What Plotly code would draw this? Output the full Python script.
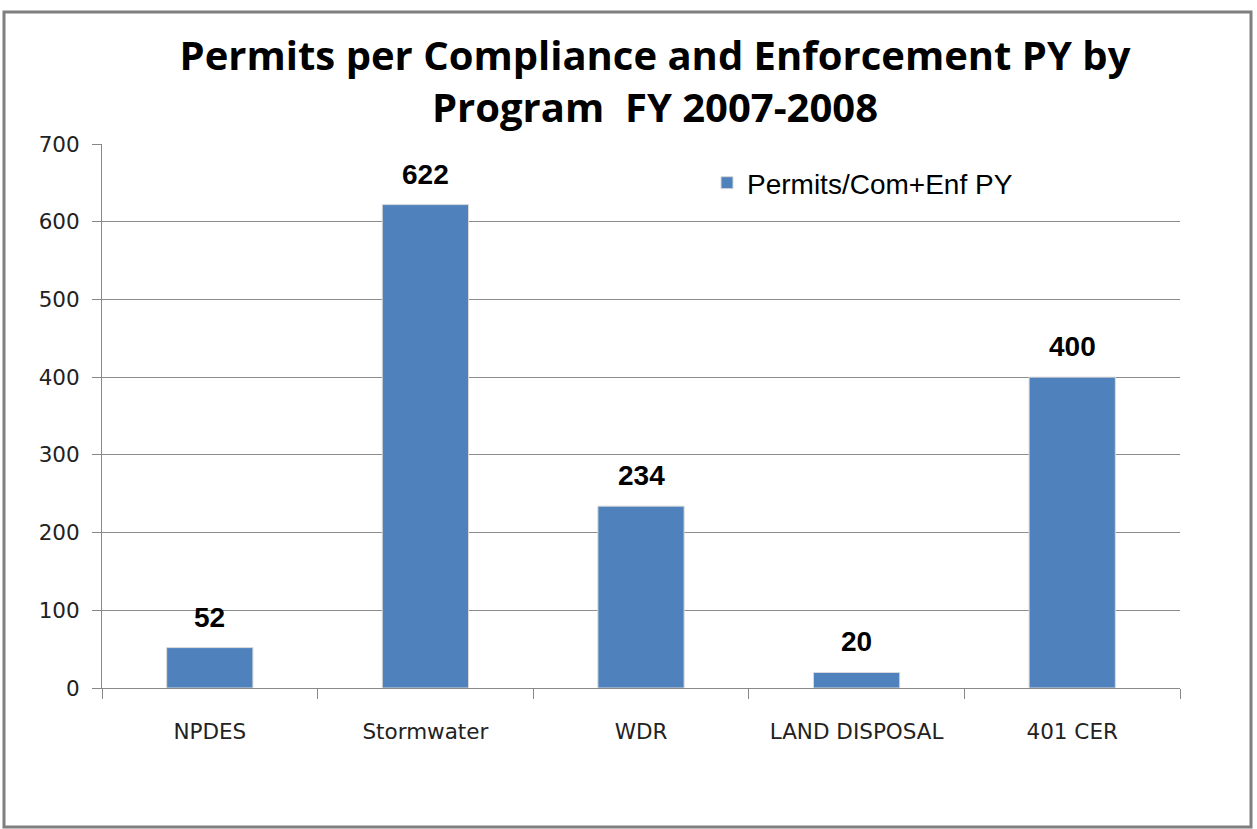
import plotly.graph_objects as go

categories = ["NPDES", "Stormwater", "WDR", "LAND DISPOSAL", "401 CER"]
values = [52, 622, 234, 20, 400]
series_name = "Permits/Com+Enf PY"
title_text = "Permits per Compliance and Enforcement PY by<br>Program  FY 2007-2008"
y_ticks = [0, 100, 200, 300, 400, 500, 600, 700]

W, H = 1257, 829
L, R, T, B = 102, 77, 144, 141
pw, ph = W - L - R, H - T - B

def px_x(x):
    return (x - L) / pw

def px_y(y):
    return (H - B - y) / ph

fig = go.Figure()
fig.add_trace(go.Bar(
    x=categories, y=values, name=series_name,
    marker=dict(color="#4F81BD", line=dict(color="#D9D9D9", width=1)),
    width=0.4,
))

for c, v in zip(categories, values):
    fig.add_annotation(x=c, y=v, text=str(v), showarrow=False, yanchor="bottom", yshift=13,
                       font=dict(family="Liberation Sans, Arial", size=28, color="black", weight="bold"))

fig.update_layout(
    width=W, height=H,
    margin=dict(l=L, r=R, t=T, b=B),
    paper_bgcolor="white", plot_bgcolor="white",
    title=dict(text=title_text, x=655 / W, xanchor="center", y=1 - 70 / H, yanchor="middle",
               font=dict(family="Open Sans", size=40, color="black", weight="bold")),
    showlegend=True,
    legend=dict(x=px_x(707), y=px_y(183), xanchor="left", yanchor="middle",
                font=dict(family="Liberation Sans, Arial", size=28, color="black"),
                bgcolor="rgba(0,0,0,0)"),
    bargap=0.6,
)
fig.update_xaxes(
    type="category", tickson="boundaries", ticks="outside", ticklen=10, tickcolor="#888888",
    showline=True, linecolor="#888888", linewidth=1, showgrid=False,
    tickfont=dict(family="DejaVu Sans", size=21.5, color="#222222"), ticklabelstandoff=24,
)
fig.update_yaxes(
    range=[0, 700], tickvals=y_ticks, ticks="outside", ticklen=9, tickcolor="#888888",
    showline=True, linecolor="#888888", linewidth=1, showgrid=True, gridcolor="#8C8C8C", gridwidth=1,
    zeroline=False,
    tickfont=dict(family="DejaVu Sans", size=21.5, color="#222222"), ticklabelstandoff=8,
)
fig.add_shape(type="rect", xref="paper", yref="paper",
              x0=px_x(4), x1=px_x(1251), y0=px_y(827), y1=px_y(12),
              line=dict(color="#7F7F7F", width=3), fillcolor="rgba(0,0,0,0)", layer="below")

fig.write_html("out.html", config={"displayModeBar": False},
               post_script="document.body.style.margin='0';")
